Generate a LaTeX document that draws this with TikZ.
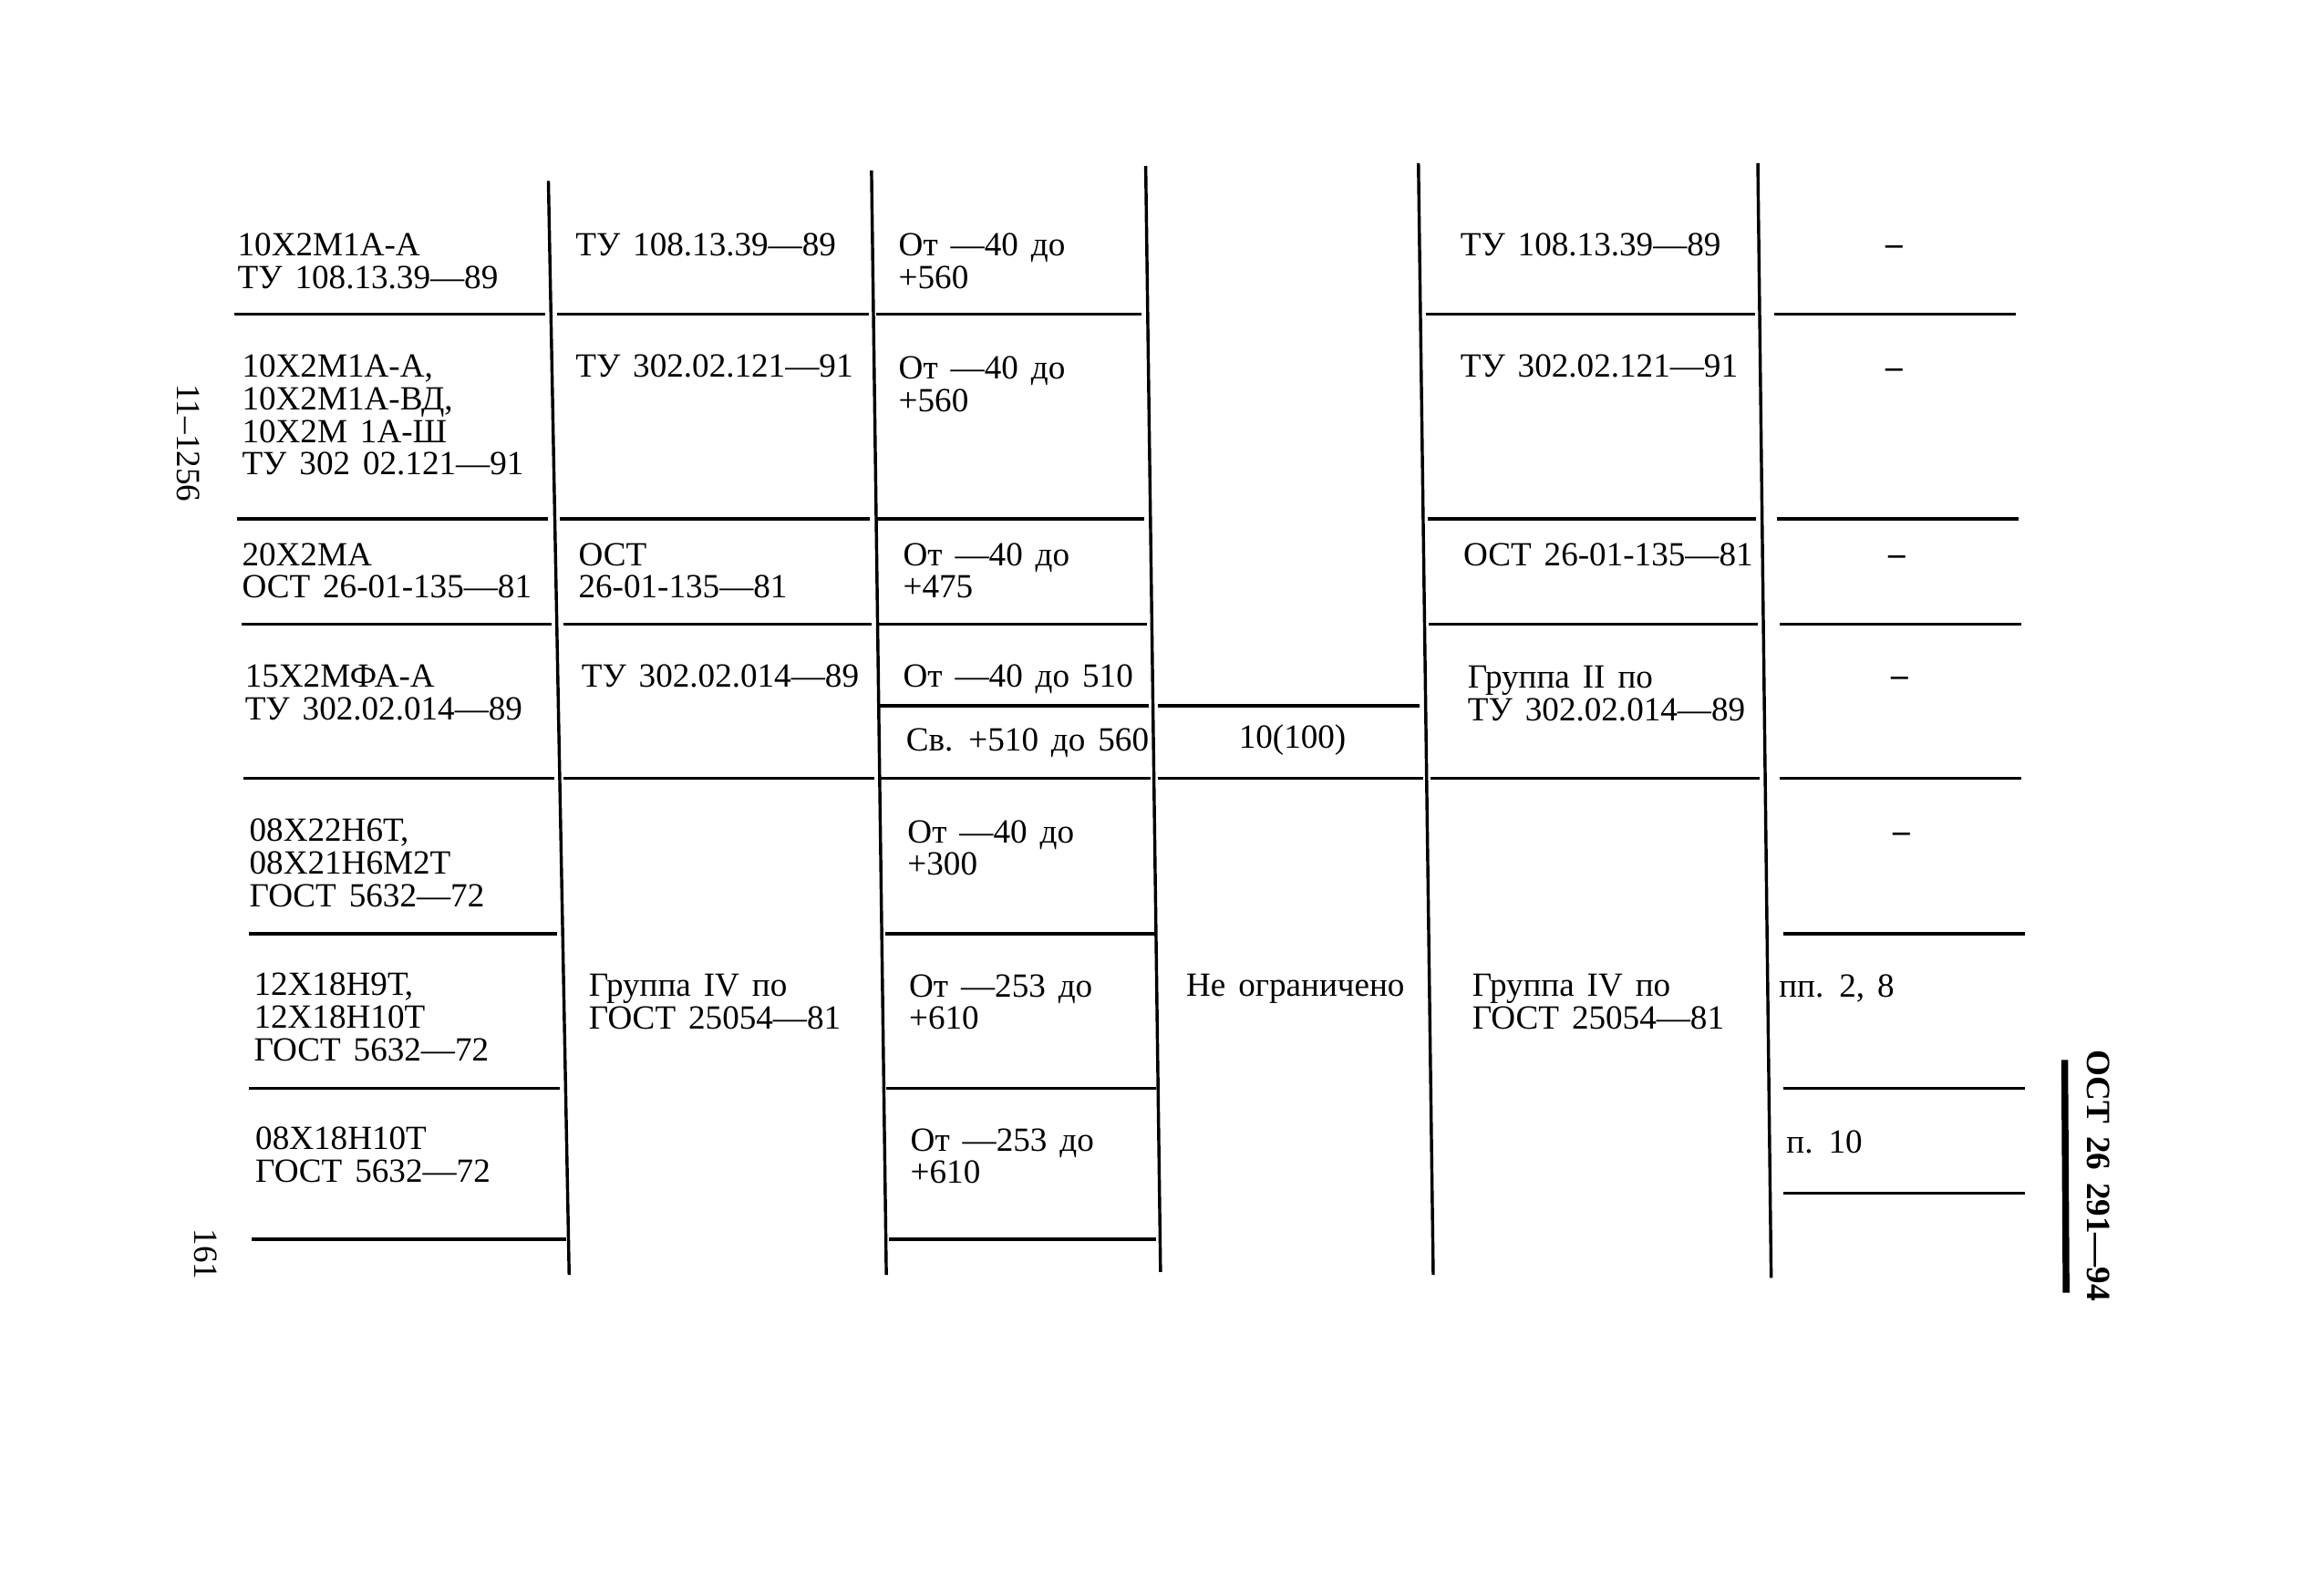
\documentclass[tikz,border=0pt]{standalone}
\usepackage{fontspec}
\setmainfont{Liberation Serif}[WordSpace=1.5]
\newcommand{\tabfont}{\fontsize{13pt}{12.5pt}\selectfont}
\tikzset{
  cell/.style={anchor=north west, inner sep=0pt, align=left, font=\tabfont},
  nilmark/.style={inner sep=0pt, font=\tabfont},
  rule/.style={line width=1.2pt},
  margin/.style={inner sep=0pt, rotate=-90, font=\tabfont}
}

\begin{document}
\begin{tikzpicture}[x=0.02cm,y=-0.02cm]
\useasboundingbox (0,0) rectangle (1568,1061);
% vertical rules
\foreach \xa/\ya/\xb/\yb in {370/122/384/860, 588/115/598/860, 773/112/783/858,
                             957/110/967/860, 1186/110/1195/862}
  \draw[rule] (\xa,\ya) -- (\xb,\yb);
% horizontal rules
\foreach \y/\xa/\xb in {212/158/368, 212/376/586, 212/591/770, 212/962/1184, 212/1197/1360,
                        350/160/370, 350/378/587, 350/592/772, 350/963/1185, 350/1199/1362,
                        421/163/372, 421/380/588, 421/593/774, 421/964/1186, 421/1201/1364,
                        476/593/775, 476/781/958,
                        525/164/374, 525/380/590, 525/594/776, 525/781/960, 525/965/1187, 525/1201/1364,
                        630/168/376, 630/597/779, 630/1203/1366,
                        734/168/378, 734/598/780, 734/1203/1366,
                        836/170/382, 836/600/780, 805/1203/1366}
  \draw[rule] (\xa,\y) -- (\xb,\y);

% row 1
\node[cell] (grade1) at (160,157) {10Х2М1А-А\\ТУ 108.13.39—89};
\node[cell] (doc1) at (388,157) {ТУ 108.13.39—89};
\node[cell] (temp1) at (606,157) {От —40 до\\+560};
\node[cell] (std1) at (985,157) {ТУ 108.13.39—89};
\node[nilmark] (note1) at (1278,169) {\bfseries –};
% row 2
\node[cell] (grade2) at (163,239) {10Х2М1А-А,\\10Х2М1А-ВД,\\10Х2М 1А-Ш\\ТУ 302 02.121—91};
\node[cell] (doc2) at (388,239) {ТУ 302.02.121—91};
\node[cell] (temp2) at (606,240) {От —40 до\\+560};
\node[cell] (std2) at (985,239) {ТУ 302.02.121—91};
\node[nilmark] (note2) at (1278,252) {\bfseries –};
% row 3
\node[cell] (grade3) at (163,366) {20Х2МА\\ОСТ 26-01-135—81};
\node[cell] (doc3) at (390,366) {ОСТ\\26-01-135—81};
\node[cell] (temp3) at (609,366) {От —40 до\\+475};
\node[cell] (std3) at (987,366) {ОСТ 26-01-135—81};
\node[nilmark] (note3) at (1280,378) {\bfseries –};
% row 4
\node[cell] (grade4) at (165,448) {15Х2МФА-А\\ТУ 302.02.014—89};
\node[cell] (doc4) at (392,448) {ТУ 302.02.014—89};
\node[cell] (temp4a) at (609,448) {От —40 до 510};
\node[cell] (temp4b) at (611,491) {Св. +510 до 560};
\node[nilmark] (press4) at (872,499) {10(100)};
\node[cell] (std4) at (990,449) {Группа II по\\ТУ 302.02.014—89};
\node[nilmark] (note4) at (1282,460) {\bfseries –};
% rows 5-7
\node[cell] (grade5) at (168,552) {08Х22Н6Т,\\08Х21Н6М2Т\\ГОСТ 5632—72};
\node[cell] (temp5) at (612,553) {От —40 до\\+300};
\node[nilmark] (note5) at (1283,565) {\bfseries –};
\node[cell] (grade6) at (171,656) {12Х18Н9Т,\\12Х18Н10Т\\ГОСТ 5632—72};
\node[cell] (doc6) at (397,657) {Группа IV по\\ГОСТ 25054—81};
\node[cell] (temp6) at (613,657) {От —253 до\\+610};
\node[cell] (press6) at (800,657) {Не ограничено};
\node[cell] (std6) at (993,657) {Группа IV по\\ГОСТ 25054—81};
\node[cell] (note6) at (1200,657) {пп. 2, 8};
\node[cell] (grade7) at (172,760) {08Х18Н10Т\\ГОСТ 5632—72};
\node[cell] (temp7) at (614,761) {От —253 до\\+610};
\node[cell] (note7) at (1205,762) {п. 10};

% page margins
\node[margin] (sheet) at (127,299) {11–1256};
\node[margin] (page) at (139,846) {161};
\node[margin, font=\tabfont\bfseries] (code) at (1416,793) {ОСТ 26 291—94};
\draw[line width=2.6pt] (1393,715) -- (1394,872);
\end{tikzpicture}
\end{document}
